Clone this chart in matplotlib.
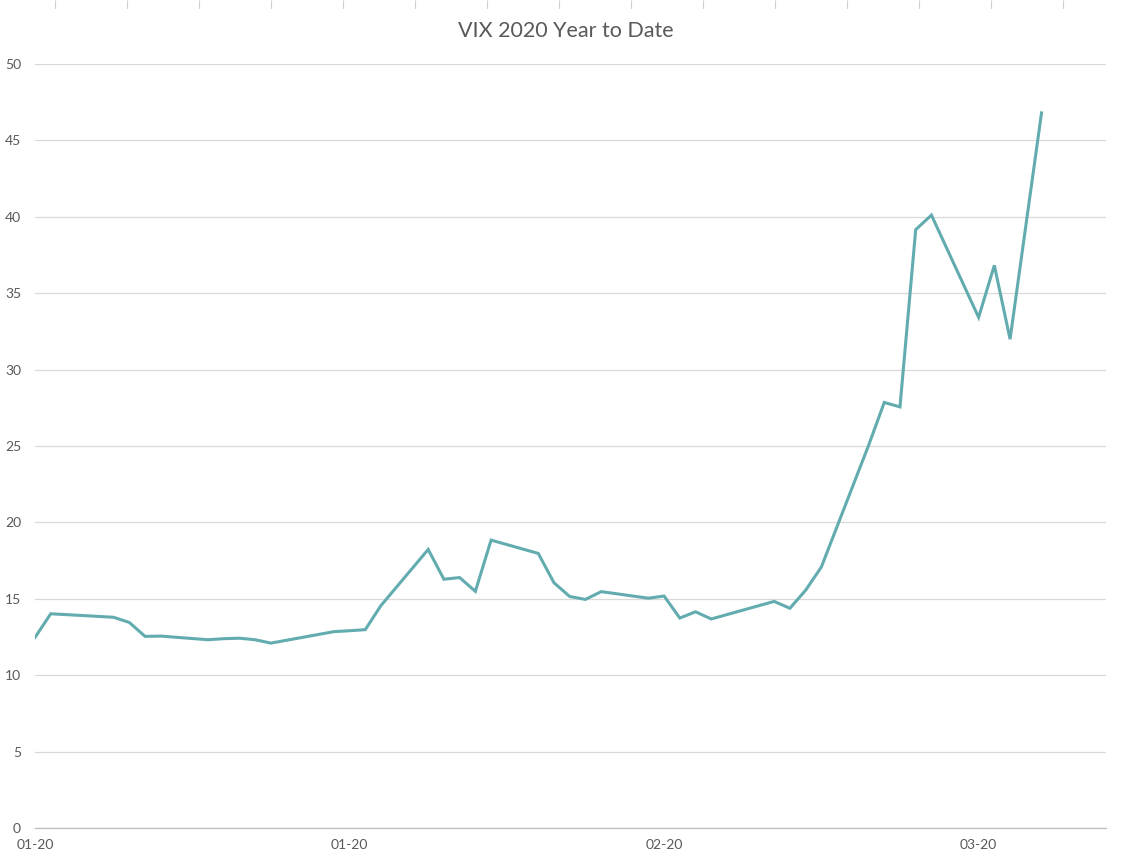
import matplotlib
matplotlib.use('Agg')
import matplotlib.pyplot as plt
import matplotlib.dates as mdates
import numpy as np
import pandas as pd

# VIX closes
dates = ['2020-01-02', '2020-01-03', '2020-01-06', '2020-01-07', '2020-01-08',
         '2020-01-09', '2020-01-10', '2020-01-13', '2020-01-14', '2020-01-15',
         '2020-01-16', '2020-01-17', '2020-01-21', '2020-01-22', '2020-01-23',
         '2020-01-24', '2020-01-27', '2020-01-28', '2020-01-29', '2020-01-30',
         '2020-01-31', '2020-02-03', '2020-02-04', '2020-02-05', '2020-02-06',
         '2020-02-07', '2020-02-10', '2020-02-11', '2020-02-12', '2020-02-13',
         '2020-02-14', '2020-02-18', '2020-02-19', '2020-02-20', '2020-02-21',
         '2020-02-24', '2020-02-25', '2020-02-26', '2020-02-27', '2020-02-28',
         '2020-03-02', '2020-03-03', '2020-03-04', '2020-03-06']
vix = [12.47, 14.02, 13.85, 13.79, 13.45,
       12.54, 12.56, 12.32, 12.39, 12.42,
       12.32, 12.10, 12.85, 12.91, 12.98,
       14.56, 18.23, 16.28, 16.39, 15.49,
       18.84, 17.97, 16.05, 15.15, 14.96,
       15.47, 15.04, 15.18, 13.74, 14.15,
       13.68, 14.83, 14.38, 15.56, 17.08,
       25.03, 27.85, 27.56, 39.16, 40.11,
       33.42, 36.82, 31.99, 46.8]
tick_dates = ['2020-01-02', '2020-01-22', '2020-02-11', '2020-03-02']
y_ticks = list(range(0, 51, 5))

txt = '#595959'
plt.rcParams['font.family'] = ['Lato', 'DejaVu Sans']

fig = plt.figure(figsize=(11.32, 8.64), dpi=100)
ax = fig.add_axes([35 / 1132, 36 / 864, 1071 / 1132, 764 / 864])

x = pd.to_datetime(dates)
ax.plot(x, vix, color='#62acb0', lw=2.2, solid_joinstyle='miter')

start = pd.Timestamp('2020-01-02')
ax.set_xlim(start, start + pd.Timedelta(days=68.1))
ax.set_ylim(0, 50)
ax.set_yticks(y_ticks)
ax.set_xticks(pd.to_datetime(tick_dates))
ax.xaxis.set_major_formatter(mdates.DateFormatter('%m-%y'))

ax.grid(axis='y', color='#d9d9d9', lw=0.9)
ax.set_axisbelow(True)
for s in ['top', 'right', 'left']:
    ax.spines[s].set_visible(False)
ax.spines['bottom'].set_color('#bfbfbf')
ax.spines['bottom'].set_linewidth(0.9)
ax.tick_params(axis='both', length=0, colors=txt, labelsize=10)
ax.tick_params(axis='y', pad=10)
ax.tick_params(axis='x', pad=8)

fig.text(0.5, 1 - 31 / 864, 'VIX 2020 Year to Date', ha='center', va='center',
         fontsize=15.5, color=txt)

# stray tick marks along the top edge
top = fig.add_axes([0, 1 - 9 / 864, 1, 9 / 864])
top.set_xlim(0, 1132)
top.set_ylim(0, 1)
top.vlines(np.arange(55, 1064, 72), 0, 1, color='#d0d0d0', lw=0.8)
top.axis('off')

fig.savefig('out.png', dpi=100)
